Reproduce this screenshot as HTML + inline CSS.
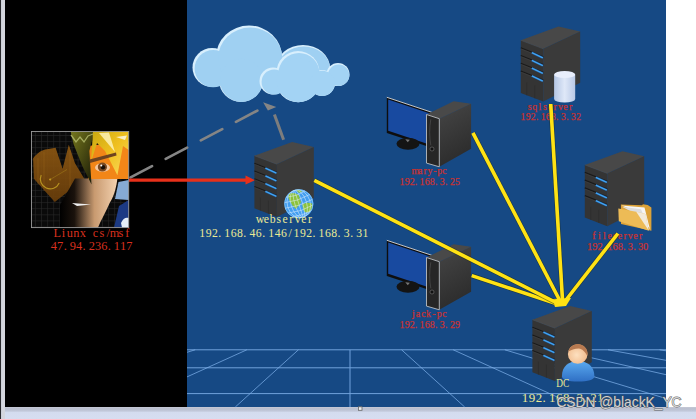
<!DOCTYPE html>
<html><head><meta charset="utf-8">
<style>
html,body{margin:0;padding:0;width:696px;height:419px;overflow:hidden;background:#d6ddef;}
svg{position:absolute;left:0;top:0;display:block}
</style></head>
<body>
<svg width="696" height="419" viewBox="0 0 696 419">
<defs>
  <linearGradient id="bot" x1="0" y1="0" x2="0" y2="1">
    <stop offset="0" stop-color="#c6c9d6"/><stop offset="0.15" stop-color="#b9bfcf"/><stop offset="0.33" stop-color="#c2c8da"/><stop offset="0.46" stop-color="#d4dcef"/><stop offset="1" stop-color="#d6ddf0"/>
  </linearGradient>
  <linearGradient id="cyl" x1="0" y1="0" x2="1" y2="0">
    <stop offset="0" stop-color="#b4c6e4"/><stop offset="0.5" stop-color="#dfe8f8"/><stop offset="1" stop-color="#b9c9e6"/>
  </linearGradient>
  <linearGradient id="body" x1="0" y1="0" x2="0" y2="1">
    <stop offset="0" stop-color="#5aaaf0"/><stop offset="1" stop-color="#2f6fc4"/>
  </linearGradient>
  <radialGradient id="face" cx="0.45" cy="0.55" r="0.6">
    <stop offset="0" stop-color="#fde0c0"/><stop offset="1" stop-color="#f0b888"/>
  </radialGradient>
  <radialGradient id="globe" cx="0.4" cy="0.4" r="0.65">
    <stop offset="0" stop-color="#6fb8ff"/><stop offset="1" stop-color="#2a78d8"/>
  </radialGradient>
  <linearGradient id="skin" x1="0" y1="0" x2="1" y2="0">
    <stop offset="0" stop-color="#000"/><stop offset="0.25" stop-color="#1a120c"/><stop offset="0.6" stop-color="#c89a70"/><stop offset="1" stop-color="#f4d2b0"/>
  </linearGradient>
  <linearGradient id="hair" x1="0" y1="0" x2="1" y2="1">
    <stop offset="0" stop-color="#c8a810"/><stop offset="0.5" stop-color="#f0c020"/><stop offset="1" stop-color="#f8dc60"/>
  </linearGradient>
  <linearGradient id="hud" x1="0" y1="0" x2="0" y2="1">
    <stop offset="0" stop-color="#8e5812"/><stop offset="1" stop-color="#6a3e0a"/>
  </linearGradient>
  <linearGradient id="olive" x1="0" y1="0" x2="1" y2="1">
    <stop offset="0" stop-color="#76781e"/><stop offset="1" stop-color="#181806"/>
  </linearGradient>
  <linearGradient id="tower" x1="0" y1="0" x2="0.3" y2="1">
    <stop offset="0" stop-color="#464646"/><stop offset="1" stop-color="#2c2c2c"/>
  </linearGradient>
  <g id="server">
    <path d="M0,0 L37.7,-13.7 L59.4,-8.7 L22.5,8.5 Z" fill="#484848"/>
    <path d="M0,0 L22.5,8.5 L22.5,61.3 L0,52.6 Z" fill="#343434"/>
    <path d="M22.5,8.5 L59.4,-8.7 L59.4,42.5 L22.5,61.3 Z" fill="#3a3a3a"/>
    <g stroke="#2c2c2c" stroke-width="0.7"><line x1="6" y1="42" x2="6" y2="55"/><line x1="14" y1="45" x2="14" y2="58"/></g>
    <line x1="0" y1="0" x2="22.5" y2="8.5" stroke="#555" stroke-width="0.5"/>
    <g stroke="#1a1a1a" stroke-width="1.2">
      <line x1="0" y1="7.5" x2="22.5" y2="16.5"/>
      <line x1="0" y1="15.25" x2="22.5" y2="24.25"/>
      <line x1="0" y1="23" x2="22.5" y2="32"/>
      <line x1="0" y1="30.75" x2="22.5" y2="39.75"/>
    </g>
    <g stroke="#444" stroke-width="0.5">
      <line x1="0" y1="8.6" x2="22.5" y2="17.6"/>
      <line x1="0" y1="16.35" x2="22.5" y2="25.35"/>
      <line x1="0" y1="24.1" x2="22.5" y2="33.1"/>
      <line x1="0" y1="31.85" x2="22.5" y2="40.85"/>
    </g>
    <g stroke="#1e5aa0" stroke-width="2.4" opacity="0.6">
      <line x1="11" y1="12.4" x2="22" y2="17.5"/>
      <line x1="11" y1="20.15" x2="22" y2="25.25"/>
      <line x1="11" y1="27.9" x2="22" y2="33"/>
      <line x1="11" y1="35.65" x2="22" y2="40.75"/>
    </g>
    <g stroke="#40a4f4" stroke-width="1.4">
      <line x1="11" y1="12.4" x2="22" y2="17.5"/>
      <line x1="11" y1="20.15" x2="22" y2="25.25"/>
      <line x1="11" y1="27.9" x2="22" y2="33"/>
      <line x1="11" y1="35.65" x2="22" y2="40.75"/>
    </g>
  </g>
  <g id="pc">
    <path d="M0,0 L45,15 L45,50.5 L0,35.7 Z" fill="#0e0e0e"/>
    <path d="M1.4,2.2 L44,16.4 L44,47.6 L1.4,33.4 Z" fill="#184aa0"/>
    <line x1="0" y1="0" x2="45" y2="15" stroke="#d8d8d8" stroke-width="0.9"/>
    <ellipse cx="21.2" cy="46.5" rx="11.5" ry="6" fill="#141414"/>
    <path d="M18.5,42 L23,42.5 L21,45 Z" fill="#777"/>
    <path d="M39.7,17.2 L66.8,3.9 L84.3,6.5 L52.5,21.4 Z" fill="#494949"/>
    <path d="M52.5,21.4 L84.3,6.5 L84.3,51.5 L52.5,69.5 Z" fill="url(#tower)"/>
    <path d="M39.7,17.2 L52.5,21.4 L52.5,69.5 L39.7,65.8 Z" fill="#262626" stroke="#cfcfcf" stroke-width="0.8"/>
    <path d="M44,22 C42.5,30 42.5,40 44,48" fill="none" stroke="#555" stroke-width="0.6"/>
    <circle cx="45.2" cy="51.7" r="2" fill="#111" stroke="#777" stroke-width="0.6"/>
  </g>
</defs>
<rect x="0" y="407" width="696" height="12" fill="url(#bot)"/>
<rect x="0" y="0" width="1.2" height="419" fill="#2a2a2e"/>
<rect x="1.2" y="0" width="3.8" height="419" fill="#d4d6de"/>
<rect x="5" y="0" width="182" height="407" fill="#000"/>
<rect x="187" y="0" width="479" height="407" fill="#164984"/>
<rect x="666" y="0" width="30" height="407" fill="#fff"/>
<!-- grid -->
<g stroke="#80b2ec" stroke-width="1" opacity="0.85">
  <line x1="187" y1="349.8" x2="666" y2="349.8"/>
  <line x1="187" y1="367.8" x2="666" y2="367.8"/>
  <line x1="187" y1="393.6" x2="666" y2="393.6"/>
  <line x1="350" y1="349.8" x2="350" y2="407"/>
</g>
<g stroke="#80b2ec" stroke-width="0.9" opacity="0.8">
<line x1="195.2" y1="349.8" x2="187.0" y2="352.3"/>
<line x1="246.8" y1="349.8" x2="187.0" y2="376.9"/>
<line x1="298.4" y1="349.8" x2="235.3" y2="407.0"/>
<line x1="401.6" y1="349.8" x2="464.7" y2="407.0"/>
<line x1="453.2" y1="349.8" x2="579.3" y2="407.0"/>
<line x1="504.8" y1="349.8" x2="666.0" y2="398.5"/>
<line x1="556.4" y1="349.8" x2="666.0" y2="374.7"/>
<line x1="608.0" y1="349.8" x2="666.0" y2="360.3"/>
<line x1="659.6" y1="349.8" x2="666.0" y2="350.8"/>
</g>
<!-- clouds -->
<g>
  <g fill="#d8effd">
    <circle cx="212" cy="67.5" r="19.5"/><ellipse cx="249" cy="57" rx="33" ry="31.5"/><circle cx="241" cy="80" r="22"/><ellipse cx="303" cy="68" rx="27" ry="23"/>
  </g>
  <g fill="#9fd0f2">
    <circle cx="213.2" cy="68.7" r="18.6"/><ellipse cx="250.2" cy="58.2" rx="32.1" ry="30.6"/><circle cx="241.5" cy="80.3" r="21.6"/><ellipse cx="303.8" cy="68.8" rx="26.2" ry="22.2"/>
  </g>
  <g fill="#d8effd">
    <circle cx="273" cy="81" r="13.5"/><circle cx="298" cy="72.5" r="21.5"/><circle cx="338" cy="74.5" r="11.5"/><circle cx="298" cy="80" r="22.3"/><circle cx="322" cy="83" r="13"/>
  </g>
  <g fill="#a3d3f4">
    <circle cx="274.2" cy="82" r="12.6"/><circle cx="299" cy="73.6" r="20.6"/><circle cx="338.6" cy="75.3" r="10.7"/><circle cx="298.5" cy="80.4" r="21.8"/><circle cx="322.3" cy="83.3" r="12.6"/>
  </g>
</g>
<!-- gray arrows -->
<line x1="130.6" y1="177.4" x2="259.5" y2="109.5" stroke="#858585" stroke-width="2.7" stroke-linecap="round" stroke-dasharray="24.2 15.5"/>
<line x1="283.6" y1="139.8" x2="274.4" y2="114.5" stroke="#7d7d7d" stroke-width="3"/>
<path d="M263.1,102.2 L276.3,106.9 L267.9,110.5 Z" fill="#858585"/>
<!-- red arrow -->
<line x1="128.8" y1="180.2" x2="247" y2="180.2" stroke="#e8301a" stroke-width="3.3"/>
<path d="M245.5,175.6 L255,180.2 L245.5,184.6 Z" fill="#e8301a"/>
<!-- servers -->
<use href="#server" x="254.4" y="155.7"/>
<use href="#server" x="520.8" y="40.3"/>
<use href="#server" x="584.8" y="164.9"/>
<use href="#server" x="532.4" y="319.7"/>
<!-- pcs -->
<use href="#pc" x="386.8" y="97.3"/>
<use href="#pc" x="386.8" y="240.3"/>
<!-- globe -->
<g>
<clipPath id="gclip"><circle cx="298.8" cy="203.8" r="14.5"/></clipPath>
<circle cx="298.8" cy="203.8" r="14.5" fill="#429ef0"/>
<g clip-path="url(#gclip)">
<path d="M289,194 C292,192 296,193 298.5,195 C300,197 299.5,200 301,202 C300,205 297.5,206.5 296,209 C294,207 291.5,205 290.5,202 C289,200 287.5,197 289,194 Z" fill="#8cc23c"/>
<path d="M302.5,204.5 C305,202.5 309,202 312,203.5 C313,206 312,209.5 309.5,212 C307,213 304.5,212.5 303.5,210 C303,208 302,206 302.5,204.5 Z" fill="#8cc23c"/>
<path d="M296,190 C298,189.5 301,190 302,191.5 L299,193 Z" fill="#8cc23c"/>
<g fill="none" stroke="#e4f2ff" stroke-width="0.55" opacity="0.85" transform="rotate(-18 298.8 203.8)">
<ellipse cx="298.8" cy="203.8" rx="3.8" ry="14.5"/><ellipse cx="298.8" cy="203.8" rx="7.8" ry="14.5"/><ellipse cx="298.8" cy="203.8" rx="11.5" ry="14.5"/>
<line x1="298.8" y1="189.3" x2="298.8" y2="218.3"/>
<path d="M284.3,203.8 Q298.8,206.8 313.3,203.8"/>
<path d="M285.40000000000003,198.3 Q298.8,201.3 312.2,198.3"/>
<path d="M288.5,193.60000000000002 Q298.8,196.3 309.1,193.60000000000002"/>
<path d="M285.40000000000003,209.3 Q298.8,212.3 312.2,209.3"/>
<path d="M288.5,214.0 Q298.8,216.60000000000002 309.1,214.0"/>
</g>
</g>
<circle cx="298.8" cy="203.8" r="14.2" fill="none" stroke="#9ad4ff" stroke-width="0.6"/>
</g>
<!-- cylinder -->
<path d="M554.1,74.5 L554.1,99 A10.55,3.6 0 0 0 575.2,99 L575.2,74.5 Z" fill="url(#cyl)"/>
<ellipse cx="564.65" cy="74.5" rx="10.55" ry="3.6" fill="#e8eefc"/>
<!-- folder -->
<g>
<path d="M620.9,204.4 L642,205.2 L643,204.2 L647.7,205 L651.4,207.6 L651.4,230.7 L621,224 Z" fill="#dca238"/>
<path d="M621.5,205.6 L644.5,207.6 L650,229.5 L638,212 Z" fill="#f6f6f6"/>
<path d="M622,206.8 L641,209.2 L646.5,222 L630,211 Z" fill="#dedede"/>
<path d="M618.3,208.6 L636.2,211.8 L645.6,213.9 L648.8,230.7 L618.8,221.2 Z" fill="#edbb56"/>
<path d="M636.2,211.8 L645.6,213.9 L648.8,230.7 Z" fill="#f2f2f2" opacity="0.85"/>
</g>
<!-- person -->
<path d="M561.9,376.5 C561.9,365.5 569,361.2 578,361.2 C587,361.2 594.4,365.5 594.4,376.5 C594.4,379.5 588,381.6 578,381.6 C568,381.6 561.9,379.5 561.9,376.5 Z" fill="url(#body)"/>
<circle cx="577.7" cy="354" r="9.8" fill="url(#face)"/>
<path d="M568.2,351.6 A9.8,9.8 0 0 1 587.4,356 C585,351.5 582,348.6 578.9,348.4 C574.5,348.6 571,350 568.2,351.6 Z" fill="#b87a50"/>
<!-- portrait -->
<g>
<rect x="31.5" y="131.5" width="97.2" height="96.1" fill="#0a0a0a"/>
<g stroke="#2a2a2a" stroke-width="0.6"><line x1="35.4" y1="131.5" x2="35.4" y2="227.6"/><line x1="41.5" y1="131.5" x2="41.5" y2="227.6"/><line x1="47.6" y1="131.5" x2="47.6" y2="227.6"/><line x1="53.7" y1="131.5" x2="53.7" y2="227.6"/><line x1="59.8" y1="131.5" x2="59.8" y2="227.6"/><line x1="65.9" y1="131.5" x2="65.9" y2="227.6"/><line x1="72.0" y1="131.5" x2="72.0" y2="227.6"/><line x1="78.1" y1="131.5" x2="78.1" y2="227.6"/><line x1="84.2" y1="131.5" x2="84.2" y2="227.6"/><line x1="90.3" y1="131.5" x2="90.3" y2="227.6"/><line x1="96.4" y1="131.5" x2="96.4" y2="227.6"/><line x1="102.5" y1="131.5" x2="102.5" y2="227.6"/><line x1="108.6" y1="131.5" x2="108.6" y2="227.6"/><line x1="114.7" y1="131.5" x2="114.7" y2="227.6"/><line x1="120.8" y1="131.5" x2="120.8" y2="227.6"/><line x1="126.9" y1="131.5" x2="126.9" y2="227.6"/><line x1="31.5" y1="135.5" x2="128.7" y2="135.5"/><line x1="31.5" y1="141.6" x2="128.7" y2="141.6"/><line x1="31.5" y1="147.7" x2="128.7" y2="147.7"/><line x1="31.5" y1="153.8" x2="128.7" y2="153.8"/><line x1="31.5" y1="159.9" x2="128.7" y2="159.9"/><line x1="31.5" y1="166.0" x2="128.7" y2="166.0"/><line x1="31.5" y1="172.1" x2="128.7" y2="172.1"/><line x1="31.5" y1="178.2" x2="128.7" y2="178.2"/><line x1="31.5" y1="184.3" x2="128.7" y2="184.3"/><line x1="31.5" y1="190.4" x2="128.7" y2="190.4"/><line x1="31.5" y1="196.5" x2="128.7" y2="196.5"/><line x1="31.5" y1="202.6" x2="128.7" y2="202.6"/><line x1="31.5" y1="208.7" x2="128.7" y2="208.7"/><line x1="31.5" y1="214.8" x2="128.7" y2="214.8"/><line x1="31.5" y1="220.9" x2="128.7" y2="220.9"/><line x1="31.5" y1="227.0" x2="128.7" y2="227.0"/></g>
<path d="M33.1,158.6 C36,154 42,149.5 47,149.3 L55.6,147.8 L62.6,168.7 L68.8,144.7 L75,163.3 L84.3,178.8 L54.8,202 L33.9,178.8 Z" fill="url(#hud)" opacity="0.92"/>
<g stroke="#b07a20" stroke-width="0.5" opacity="0.5"><line x1="38" y1="158" x2="38" y2="184"/><line x1="44" y1="152" x2="44" y2="191"/><line x1="70" y1="150" x2="70" y2="193"/></g>
<path d="M41.2,175 A9.3,9.3 0 0 0 59.2,183" fill="none" stroke="#b89420" stroke-width="1.1"/>
<circle cx="50.2" cy="179.5" r="1" fill="#d0a828"/><line x1="50.2" y1="179.5" x2="67" y2="169.5" stroke="#a07818" stroke-width="0.6"/>
<path d="M75,178.5 L117.4,178.5 C116,190 113,198 109.9,202.5 C106,212 101,220 98,227.6 L60,227.6 L60,205 Z" fill="url(#skin)"/>
<path d="M88,146 L128.7,141 L128.7,179 L88,179 Z" fill="#f28618"/>
<path d="M70.7,131.5 L94,131.5 L89.4,151 L91.5,184.4 L82.2,165.8 L73.6,144.3 Z" fill="url(#olive)"/>
<path d="M93,131.5 L128.7,131.5 L128.7,150 L123,146 L117.4,175.3 L105,151 L97,143 L91,162 Z" fill="url(#hair)"/>
<path d="M99,133 L109,132.5 L115,152 Z" fill="#fff6c0" opacity="0.8"/>
<path d="M116,137 L127,135.5 L125,140 Z" fill="#fff" opacity="0.75"/>
<path d="M71,135 L76,142 L80,137 L84,142 L88,136 L93,134" fill="none" stroke="#b8c070" stroke-width="1.3" opacity="0.8"/>
<path d="M89.5,159.5 L116,152.5 L116.5,155.5 L90,163 Z" fill="#6e4420"/>
<ellipse cx="102.5" cy="167.5" rx="7.5" ry="4.3" fill="#f4c8a0"/>
<circle cx="102.4" cy="167" r="4.6" fill="#7a4a22"/>
<circle cx="103" cy="167.3" r="2.2" fill="#1a0e06"/>
<circle cx="101.3" cy="165.4" r="1" fill="#fff"/>
<path d="M118.5,182 L128.7,180 L128.7,200 L115,199 Z" fill="#86aad4"/>
<path d="M114,227.6 L119,206 L128.7,200 L128.7,227.6 Z" fill="#1c3a84"/>
<path d="M121,223 C123,218 126,217 128.7,218 L128.7,227.6 L122,227.6 Z" fill="#e6eef8"/>
<path d="M72,203 L91,204.6 L77,206 Z" fill="#f0f0f0"/>
<rect x="31.5" y="131.5" width="97.2" height="96.1" fill="none" stroke="#9a9a9a" stroke-width="0.9"/>
</g>
<!-- labels -->
<text x="255.79 263.64 269.82 276.49 282.43 289.31 294.66 301.23 308.11" y="223.0" font-family="Liberation Serif" font-size="11.70" fill="#ecea94">webserver</text>
<text x="199.17 205.67 211.97 218.21 224.30 230.67 237.03 243.34 249.58 255.81 262.19 268.29 274.71 280.94 288.60 293.42 299.92 306.22 312.46 318.56 324.93 331.29 337.59 343.80 350.16 356.37 362.54" y="237.2" font-family="Liberation Serif" font-size="11.73" fill="#ecea94">192.168.46.146/192.168.3.31</text>
<text x="521.76 528.83 535.68 542.51 549.09 556.02 562.93 569.84 576.54 583.50 590.33 596.91" y="402.2" font-family="Liberation Serif" font-size="12.93" fill="#ecea94">192.168.3.21</text>
<text x="53.55 61.78 66.85 73.17 79.63 85.88 92.70 99.44 106.55 109.84 118.62 125.20" y="236.6" font-family="Liberation Serif" font-size="12.30" fill="#d8301e">Liunx cs/msf</text>
<text x="50.86 56.95 63.68 69.84 76.06 82.58 88.76 94.93 101.21 107.78 113.72 120.02 126.26" y="250.0" font-family="Liberation Serif" font-size="12.38" fill="#d8301e">47.94.236.117</text>
<text x="527.69 532.20 538.51 543.05 547.90 553.53 557.88 563.26 568.89" y="109.5" font-family="Liberation Serif" font-size="9.90" fill="#c83232" stroke="#c83232" stroke-width="0.25">sqlserver</text>
<text x="520.55 525.77 530.83 535.89 540.73 545.84 550.95 556.07 560.99 566.16 571.08 576.22" y="120.4" font-family="Liberation Serif" font-size="9.62" fill="#c83232" stroke="#c83232" stroke-width="0.25">192.168.3.32</text>
<text x="411.59 417.99 423.42 427.44 433.13 437.25 442.21" y="173.6" font-family="Liberation Serif" font-size="9.90" fill="#c83232" stroke="#c83232" stroke-width="0.25">mary-pc</text>
<text x="399.43 404.65 409.70 414.85 419.59 424.71 429.81 435.01 439.85 445.10 450.03 454.93" y="185.0" font-family="Liberation Serif" font-size="9.92" fill="#c83232" stroke="#c83232" stroke-width="0.25">192.168.3.25</text>
<text x="412.09 415.85 421.18 426.10 432.27 436.82 442.21" y="316.6" font-family="Liberation Serif" font-size="9.90" fill="#c83232" stroke="#c83232" stroke-width="0.25">jack-pc</text>
<text x="399.43 404.64 409.68 414.82 419.55 424.65 429.75 434.94 439.77 445.00 449.93 454.94" y="328.0" font-family="Liberation Serif" font-size="9.92" fill="#c83232" stroke="#c83232" stroke-width="0.25">192.168.3.29</text>
<text x="592.30 597.88 603.05 607.38 612.81 617.71 623.39 627.79 633.21 638.89" y="239.2" font-family="Liberation Serif" font-size="9.90" fill="#c83232" stroke="#c83232" stroke-width="0.25">fileserver</text>
<text x="587.09 592.35 597.43 602.71 607.37 612.52 617.66 622.99 627.75 633.13 637.89 643.01" y="250.2" font-family="Liberation Serif" font-size="10.38" fill="#c83232" stroke="#c83232" stroke-width="0.25">192.168.3.30</text>
<text x="0" y="0" transform="translate(556.2,387.1) scale(0.74,1)" font-family="Liberation Serif" font-size="12.6" fill="#ecea94">DC</text>
<!-- yellow lines -->
<g stroke-linecap="butt">
<g stroke="#1e2a18" stroke-width="4.8" opacity="0.55">
  <line x1="472.9" y1="132.9" x2="559.5" y2="300"/>
  <line x1="550.7" y1="104" x2="562.5" y2="300"/>
  <line x1="617.9" y1="233.5" x2="566" y2="300"/>
  <line x1="471.7" y1="275.6" x2="557.5" y2="304"/>
</g>
<g stroke="#ffe214" stroke-width="3.6">
  <line x1="472.9" y1="132.9" x2="559.5" y2="300"/>
  <line x1="550.7" y1="104" x2="562.5" y2="300"/>
  <line x1="617.9" y1="233.5" x2="566" y2="300"/>
  <line x1="471.7" y1="275.6" x2="557.5" y2="304"/>
</g>
</g>
<path d="M553,299 L571,298 L566,306 L555,307 Z" fill="#ffe214"/>
<g stroke-linecap="butt">
<line x1="314.3" y1="180.4" x2="557" y2="303" stroke="#1e2a18" stroke-width="4.8" opacity="0.55"/>
<line x1="314.3" y1="180.4" x2="557" y2="303" stroke="#ffe214" stroke-width="3.6"/>
</g>
<path d="M553,299.5 L568,299 L564,305.5 L555,306.5 Z" fill="#ffe214"/>
<!-- watermark -->
<g font-family="Liberation Sans" font-size="14.3">
<text x="0" y="0" transform="translate(556.4,406.8) scale(0.965,1)" fill="#d2d2d2" stroke="#505050" stroke-width="1.0" stroke-opacity="0.9" paint-order="stroke">CSDN @blackK_YC</text>
</g>
<rect x="358.5" y="406.8" width="3.5" height="3.5" fill="#eee" stroke="#666" stroke-width="0.8"/>
</svg>
</body></html>
